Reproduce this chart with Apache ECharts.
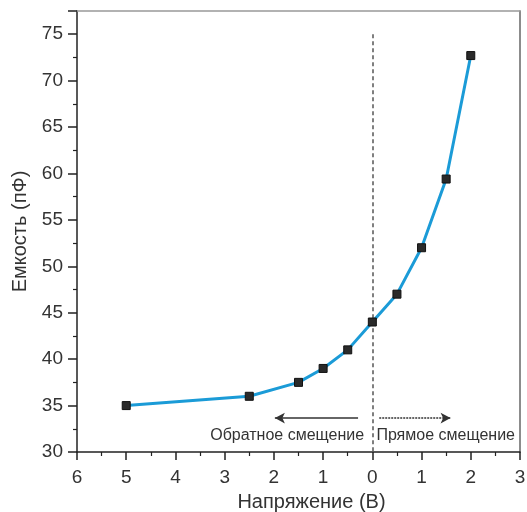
<!DOCTYPE html>
<html><head><meta charset="utf-8">
<script src="https://cdn.jsdelivr.net/npm/echarts@6/dist/echarts.min.js"></script>
<style>html,body{margin:0;padding:0;background:#fff}#c{width:527px;height:512px}</style>
</head><body><div id="c"></div>
<script>
// Voltage (V): negative = reverse bias (shown as absolute value on axis)
var voltage = [-5, -2.5, -1.5, -1, -0.5, 0, 0.5, 1, 1.5, 2];
var capacitance = [35, 36, 37.5, 39, 41, 44, 47, 52, 59.4, 72.7];
var xTicks = [-6, 3, 1];   // min, max, interval
var yTicks = [30, 77.5, 5];
var xName = 'Напряжение (В)';
var yName = 'Емкость (пФ)';
var reverseLabel = 'Обратное смещение';
var forwardLabel = 'Прямое смещение';

var data = voltage.map(function(v, i){ return [v, capacitance[i]]; });
var font = 'Liberation Sans, Arial, sans-serif';
var chart = echarts.init(document.getElementById('c'));
chart.setOption({
  animation: false,
  grid: {left: 77, right: 7, top: 11, bottom: 60, show: false, containLabel: false, outerBoundsMode: 'none'},
  xAxis: [{
    type: 'value', min: xTicks[0], max: xTicks[1], interval: xTicks[2],
    name: xName, nameLocation: 'middle', nameGap: 40,
    nameTextStyle: {fontSize: 20, color: '#333', fontFamily: font, padding: [0,0,0,26]},
    axisLine: {show: true, onZero: false, lineStyle: {color: '#222', width: 1.5}},
    axisTick: {show: true, inside: false, length: 8, lineStyle: {color: '#222', width: 1.5}},
    minorTick: {show: true, splitNumber: 2, length: 4, lineStyle: {color: '#222', width: 1.2}},
    axisLabel: {fontSize: 19, color: '#333', fontFamily: font, margin: 16,
      formatter: function(v){ return String(Math.abs(v)); }},
    splitLine: {show: false}
  }, {
    type: 'value', position: 'top', min: xTicks[0], max: xTicks[1],
    axisLine: {show: true, onZero: false, lineStyle: {color: '#999', width: 1.5}},
    axisTick: {show: false}, axisLabel: {show: false}, splitLine: {show: false}
  }],
  yAxis: [{
    type: 'value', min: yTicks[0], max: yTicks[1], interval: yTicks[2],
    name: yName, nameLocation: 'middle', nameGap: 47,
    nameTextStyle: {fontSize: 20, color: '#333', fontFamily: font},
    axisLine: {show: true, onZero: false, lineStyle: {color: '#222', width: 1.5}},
    axisTick: {show: true, inside: false, length: 9, lineStyle: {color: '#222', width: 1.5}},
    minorTick: {show: true, splitNumber: 2, length: 4, lineStyle: {color: '#222', width: 1.2}},
    axisLabel: {fontSize: 19, color: '#333', fontFamily: font, margin: 14, showMaxLabel: false},
    splitLine: {show: false}
  }, {
    type: 'value', position: 'right', min: yTicks[0], max: yTicks[1],
    axisLine: {show: true, onZero: false, lineStyle: {color: '#666', width: 1.5}},
    axisTick: {show: false}, axisLabel: {show: false}, splitLine: {show: false}
  }],
  series: [{
    type: 'line', data: data, smooth: false,
    lineStyle: {color: '#1b9bd7', width: 3},
    symbol: 'rect', symbolSize: 8, showAllSymbol: true,
    itemStyle: {color: '#2a2a2a', borderColor: '#111', borderWidth: 1},
    z: 5,
    markLine: {
      silent: true, z: 3,
      label: {show: false},
      data: [
        [{coord: [0, 75], symbol: 'none', lineStyle: {type: [4, 3], color: '#555', width: 1.5}},
         {coord: [0, 30], symbol: 'none'}],
        [{coord: [-0.29, 33.65], symbol: 'none', lineStyle: {type: 'solid', color: '#333', width: 1.5}},
         {coord: [-1.98, 33.65], symbol: 'arrow', symbolSize: [8, 10]}],
        [{coord: [0.14, 33.65], symbol: 'none', lineStyle: {type: [2, 1], color: '#333', width: 1.5}},
         {coord: [1.59, 33.65], symbol: 'arrow', symbolSize: [8, 10]}]
      ]
    },
    markPoint: {
      silent: true, symbol: 'circle', symbolSize: 1,
      itemStyle: {color: 'rgba(0,0,0,0)'},
      label: {show: true, position: 'inside', fontSize: 16, color: '#333', fontFamily: font},
      data: [
        {coord: [-1.73, 31.8], label: {formatter: reverseLabel}},
        {coord: [1.49, 31.8], label: {formatter: forwardLabel}}
      ]
    }
  }]
});
</script></body></html>
